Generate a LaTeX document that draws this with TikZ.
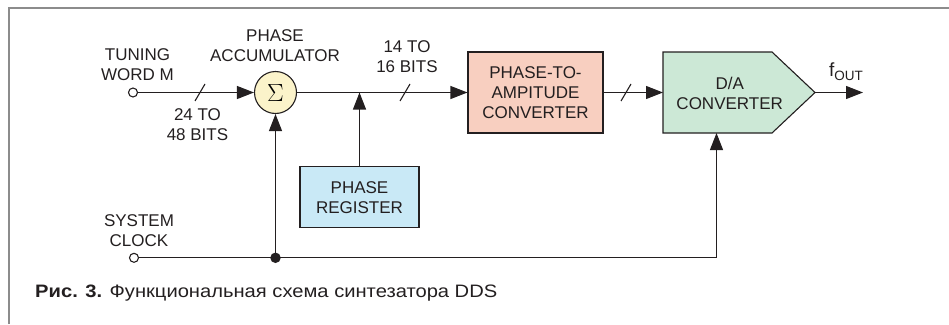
\documentclass[tikz,border=0pt]{standalone}
\usepackage{fontspec}
\setmainfont{Liberation Sans}
\newfontfamily\capfont[FakeStretch=1.12]{Liberation Sans}
\usetikzlibrary{arrows.meta,calc}
\definecolor{linec}{HTML}{231F20}
\definecolor{framec}{HTML}{8C8C8C}
\definecolor{sumfill}{HTML}{FBF3CA}
\definecolor{pafill}{HTML}{F8CFC0}
\definecolor{regfill}{HTML}{C9E9F6}
\definecolor{dacfill}{HTML}{CCE8D6}
\tikzset{
  lbl/.style={font=\fontsize{17}{20}\selectfont, align=center, text=linec, inner sep=0pt},
  blk/.style={draw=linec, line width=1.1pt, inner sep=0pt},
  wire/.style={draw=linec, line width=1.1pt},
  arr/.style={wire, -{Triangle[length=17pt,width=13pt]}},
  term/.style={circle, draw=linec, line width=1.1pt, fill=white, minimum size=9pt, inner sep=0pt},
  junc/.style={circle, fill=linec, minimum size=10.5pt, inner sep=0pt},
  slashmark/.style={wire}
}
\begin{document}
\begin{tikzpicture}[x=1pt,y=-1pt]
\useasboundingbox (0,0) rectangle (949,324);
% frame
\draw[framec, line width=2pt] (9.3,324) -- (9.3,8.3) -- (949,8.3);
% nodes
\node[term] (tw) at (133,92.5) {};
\node[term] (sc) at (134,257.8) {};
\node[circle, blk, fill=sumfill, minimum size=42pt] (sum) at (275.5,92.5) {\fontsize{25}{25}\selectfont$\Sigma$};
\node[blk, fill=pafill, minimum width=135pt, minimum height=81pt] (pa) at (535.5,92.5) {};
\node[lbl] at (535.5,92.3) {PHASE-TO-\\AMPITUDE\\CONVERTER};
\node[blk, fill=regfill, minimum width=119pt, minimum height=61pt] (reg) at (359.5,197.2) {};
\node[lbl] at (359.5,197.7) {PHASE\\REGISTER};
% DAC pentagon
\coordinate (dacL) at (663,92.5);
\coordinate (dacR) at (815,92.5);
\coordinate (dacB) at (716.5,133);
\draw[blk, fill=dacfill] (663,52) -- (772,52) -- (dacR) -- (772,133) -- (663,133) -- cycle;
\node[lbl] (daclbl) at (729.7,93.2) {D/A\\CONVERTER};
\coordinate (jr) at (359.5,92.5);
\coordinate (jc) at (275.5,257.8);
\coordinate (cb) at (716.5,257.8);
\coordinate (fo) at (863,92.5);
% labels
\node[lbl] (lt) at (137.5,64.9) {TUNING\\WORD M};
\node[lbl] (la) at (275,45.2) {PHASE\\ACCUMULATOR};
\node[lbl] (l24) at (197.5,124.3) {24 TO\\48 BITS};
\node[lbl] (l14) at (407,56.3) {14 TO\\16 BITS};
\node[lbl] (ls) at (139,230.5) {SYSTEM\\CLOCK};
\node[lbl, anchor=base west, font=\fontsize{19}{20}\selectfont] (lf) at (829,76) {f\raisebox{-4pt}{\fontsize{13.5}{14}\selectfont OUT}};
% wires
\draw[arr] (tw) -- (sum);
\draw[wire] (sum) -- (jr);
\draw[arr] (jr) -- (pa);
\draw[arr] (reg) -- (jr);
\draw[arr] (pa) -- (dacL);
\draw[arr] (dacR) -- (fo);
\draw[wire] (sc) -- (cb);
\draw[arr] (jc) -- (sum);
\draw[arr] (cb) -- (dacB);
\node[junc] (jdot) at (jc) {};
% slash marks
\foreach \sx in {200,405,626}{
  \draw[slashmark] (\sx-5,101) -- (\sx+5,84);
}
% caption
\node[anchor=base west, inner sep=0pt, text=linec, font=\capfont\fontsize{18}{20}\selectfont] (cap) at (35,297.3) {\textbf{Рис. 3.} Функциональная схема синтезатора DDS};
\end{tikzpicture}
\end{document}
